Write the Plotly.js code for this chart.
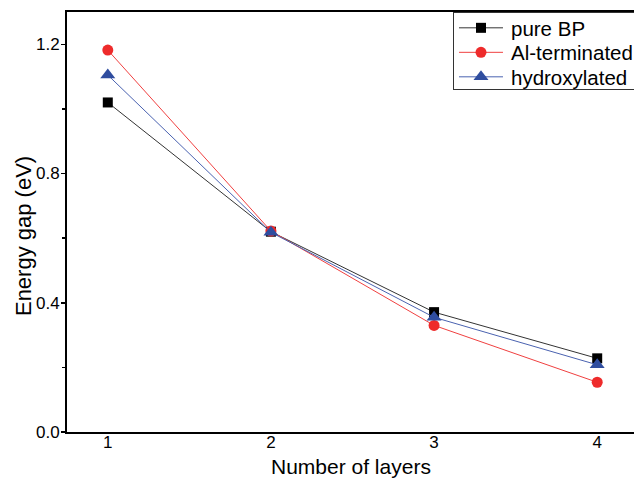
<!DOCTYPE html>
<html>
<head>
<meta charset="utf-8">
<script src="https://cdn.plot.ly/plotly-3.0.1.min.js"></script>
<style>
html, body { margin: 0; padding: 0; overflow: hidden; background: #fff; }
#chart { width: 700px; height: 482px; }
</style>
</head>
<body>
<div id="chart"></div>
<script>
const layers = [1, 2, 3, 4];
const pureBP = [1.02, 0.62, 0.371, 0.228];
const alTerminated = [1.182, 0.622, 0.330, 0.154];
const hydroxylated = [1.105, 0.618, 0.355, 0.208];
const seriesNames = ["pure BP", "Al-terminated", "hydroxylated"];
const xTickLabels = ["1", "2", "3", "4"];
const yTickVals = [0, 0.4, 0.8, 1.2];
const yTickLabels = ["0.0", "0.4", "0.8", "1.2"];
const xTitle = "Number of layers";
const yTitle = "Energy gap (eV)";

const traces = [
  {
    x: layers, y: pureBP, name: seriesNames[0], mode: "lines+markers",
    line: { color: "#333333", width: 1 },
    marker: { symbol: "square", size: 10, color: "#000000" }
  },
  {
    x: layers, y: alTerminated, name: seriesNames[1], mode: "lines+markers",
    line: { color: "#f04040", width: 1 },
    marker: { symbol: "circle", size: 11, color: "#ee2b2b" }
  },
  {
    x: layers, y: hydroxylated, name: seriesNames[2], mode: "lines+markers",
    line: { color: "#4a62b0", width: 1 },
    marker: { symbol: "triangle-up", size: 13, color: "#2f4d9f" }
  }
];

const layout = {
  width: 700, height: 482,
  margin: { l: 67, r: 62, t: 12, b: 50, autoexpand: false },
  paper_bgcolor: "#ffffff", plot_bgcolor: "#ffffff",
  font: { family: "Liberation Sans, Arial, sans-serif", color: "#000000" },
  showlegend: true,
  legend: {
    x: 0.676, y: 1, xanchor: "left", yanchor: "top",
    bgcolor: "#ffffff", bordercolor: "#333333", borderwidth: 1,
    font: { size: 20.5 }, tracegroupgap: 0, itemwidth: 47
  },
  xaxis: {
    range: [0.75, 4.25],
    tickvals: layers, ticktext: xTickLabels,
    ticks: "", showgrid: false, zeroline: false,
    showline: true, linecolor: "#000000", linewidth: 2, mirror: true,
    tickfont: { size: 17 }, ticklabelstandoff: -6
  },
  yaxis: {
    range: [0, 1.3],
    tickvals: yTickVals, ticktext: yTickLabels,
    ticks: "outside", ticklen: 4, tickwidth: 1.5, tickcolor: "#000000",
    minor: { tickvals: [0.2, 0.6, 1.0], ticks: "outside", ticklen: 3, tickwidth: 1.5, tickcolor: "#000000" },
    showgrid: false, zeroline: false,
    showline: true, linecolor: "#000000", linewidth: 2, mirror: true,
    tickfont: { size: 17 }, ticklabelstandoff: -2
  },
  annotations: [
    {
      text: xTitle, xref: "paper", yref: "paper", x: 0.4975, y: -0.083,
      xanchor: "center", yanchor: "middle", showarrow: false,
      font: { size: 21 }
    },
    {
      text: yTitle, xref: "paper", yref: "paper", x: -0.075, y: 0.467,
      xanchor: "center", yanchor: "middle", showarrow: false, textangle: -90,
      font: { size: 22 }
    }
  ]
};

Plotly.newPlot("chart", traces, layout, { displayModeBar: false, staticPlot: true }).then(function (gd) {
  // lengthen legend line samples to match the reference legend glyphs
  gd.querySelectorAll(".legend .legendlines path").forEach(function (p) {
    p.setAttribute("d", "M5,0h44");
  });
  gd.querySelectorAll(".legend .legendpoints path").forEach(function (p) {
    p.setAttribute("transform", "translate(27,0)");
  });
  // tighten legend row spacing like the reference
  const items = gd.querySelectorAll(".legend g.traces");
  if (items.length) {
    const parse = function (el) {
      const m = /translate\(\s*([-\d.]+)[ ,]+([-\d.]+)/.exec(el.getAttribute("transform") || "");
      return m ? [parseFloat(m[1]), parseFloat(m[2])] : [0, 0];
    };
    const first = parse(items[0]);
    const y0 = first[1] - 5;
    items.forEach(function (el, i) {
      const t = parse(el);
      el.setAttribute("transform", "translate(" + t[0] + "," + (y0 + i * 24.5) + ")");
    });
    const bg = gd.querySelector(".legend rect.bg");
    if (bg) bg.setAttribute("height", 77);
  }
});
</script>
</body>
</html>
